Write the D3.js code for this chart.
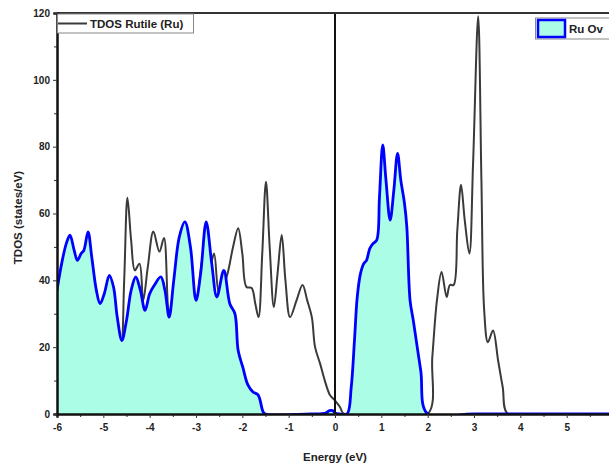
<!DOCTYPE html>
<html>
<head>
<meta charset="utf-8">
<script src="https://cdn.jsdelivr.net/npm/d3@7"></script>
<style>
  html, body { margin: 0; padding: 0; background: #fff; }
  svg { display: block; font-family: "Liberation Sans", Arial, sans-serif; }
</style>
</head>
<body>
<svg id="chart" width="609" height="468"></svg>
<script>
// Total density of states, rutile (Ru)
const tdosEnergy = [-6.0,-5.9,-5.8,-5.72,-5.6,-5.48,-5.33,-5.2,-5.07,-4.87,-4.72,-4.62,-4.55,-4.48,-4.4,-4.32,-4.22,-4.14,-4.04,-3.92,-3.79,-3.69,-3.58,-3.45,-3.3,-3.24,-3.1,-3.0,-2.88,-2.78,-2.7,-2.61,-2.5,-2.34,-2.2,-2.09,-2.0,-1.91,-1.8,-1.72,-1.65,-1.57,-1.49,-1.41,-1.32,-1.24,-1.15,-1.07,-0.97,-0.83,-0.7,-0.6,-0.5,-0.43,-0.32,-0.22,-0.11,0.0,0.11,0.17,0.25,1.0,2.0,2.1,2.2,2.3,2.41,2.48,2.56,2.64,2.72,2.8,2.9,2.98,3.09,3.16,3.22,3.3,3.41,3.52,3.62,3.73,4.5,6.0];
const tdosValue  = [33,40,47,50,44,45,50,40,30,38,25,20,40,64.7,52,43,45,34,44,54.6,48.6,52.7,31,38,50,52,44,32,45,52,44,48,36,41,50,55.6,48,38,37.7,33,29,48,69.5,50,32,42,53.6,40,29,34,38.6,34,29,20,15,10,5.7,4,2,0.3,0,0,0,17,34,42.5,35,38.6,38.6,55,68.6,58,48,75,119,70,31,21.5,25,16,8,0,0,0];

// Density of states, Ru with oxygen vacancy
const ovEnergy = [-6.0,-5.9,-5.8,-5.72,-5.63,-5.56,-5.48,-5.42,-5.33,-5.25,-5.15,-5.07,-4.98,-4.87,-4.78,-4.7,-4.6,-4.5,-4.4,-4.3,-4.2,-4.1,-4.0,-3.9,-3.76,-3.67,-3.58,-3.48,-3.36,-3.24,-3.12,-3.0,-2.9,-2.78,-2.66,-2.55,-2.4,-2.27,-2.16,-2.09,-1.99,-1.88,-1.77,-1.66,-1.55,-1.5,-0.5,-0.2,-0.12,-0.05,0.0,0.1,0.26,0.35,0.42,0.48,0.55,0.62,0.68,0.75,0.82,0.9,0.96,1.03,1.1,1.19,1.27,1.35,1.42,1.5,1.55,1.62,1.69,1.85,2.0,3.0,6.0];
const ovValue  = [37,45,51,53.5,49,46,48,49,54.5,47,37,33,36,41.5,38,29,22,28,37,41,37,31,36,38.5,41,37,29,40,53,57.5,50,34,42,57.5,45,35,43,33,30,19,14,8.7,6.6,5.7,0.6,0,0,0.3,1,1,0.3,0,0,8,22,35,42,45,46,49.5,51,52,65,80.5,70,58,67,78,70,63,56,34,28,13,0,0,0];

const xTicks = [-6,-5,-4,-3,-2,-1,0,1,2,3,4,5];
const yTicks = [0,20,40,60,80,100,120];
const seriesNames = ["TDOS Rutile (Ru)", "Ru Ov"];

const svg = d3.select("#chart");
const x = d3.scaleLinear().domain([-6, 6]).range([57, 613]);
const y = d3.scaleLinear().domain([0, 120]).range([414, 13]);

const tdos = tdosEnergy.map((e, i) => ({e, v: tdosValue[i]}));
const ov = ovEnergy.map((e, i) => ({e, v: ovValue[i]}));

svg.append("clipPath").attr("id", "plot-clip")
  .append("rect").attr("x", x(-6)).attr("y", y(120)).attr("width", x(6) - x(-6)).attr("height", y(0) - y(120));

const plot = svg.append("g").attr("clip-path", "url(#plot-clip)");

const curve = d3.curveCatmullRom.alpha(0.5);
const line = d3.line().x(d => x(d.e)).y(d => y(d.v)).curve(curve);
const area = d3.area().x(d => x(d.e)).y0(y(0)).y1(d => y(d.v)).curve(curve);

// TDOS line underneath, vacancy DOS filled on top
plot.append("path").datum(tdos).attr("d", line)
  .attr("fill", "none").attr("stroke", "#3a3a3a").attr("stroke-width", 2).attr("stroke-linejoin", "round");
plot.append("path").datum(ov).attr("d", area).attr("fill", "#abfde6");
plot.append("path").datum(ov).attr("d", line)
  .attr("fill", "none").attr("stroke", "#0000ff").attr("stroke-width", 2.8).attr("stroke-linejoin", "round");

// Fermi level
svg.append("line").attr("x1", x(0)).attr("x2", x(0)).attr("y1", y(120)).attr("y2", y(0))
  .attr("stroke", "#111").attr("stroke-width", 2);

// Frame
svg.append("line").attr("x1", x(-6)).attr("x2", x(6)).attr("y1", y(120)).attr("y2", y(120))
  .attr("stroke", "#333").attr("stroke-width", 2);

// Axes
const xAxis = d3.axisBottom(x).tickValues(xTicks).tickFormat(d => String(d)).tickSize(4).tickPadding(6);
const xMinor = d3.axisBottom(x).tickValues(d3.range(-5.5, 6, 1)).tickFormat("").tickSize(3);
const yAxis = d3.axisLeft(y).tickValues(yTicks).tickSize(4).tickPadding(3);
const yMinor = d3.axisLeft(y).tickValues(d3.range(10, 120, 20)).tickFormat("").tickSize(3);

function styleAxis(g) {
  g.select(".domain").attr("stroke", "#111").attr("stroke-width", 2);
  g.selectAll(".tick line").attr("stroke", "#333").attr("stroke-width", 1);
  g.selectAll(".tick text").attr("fill", "#222").attr("font-size", 10).attr("font-weight", "bold")
    .attr("font-family", "Liberation Sans, Arial, sans-serif");
}

svg.append("g").attr("transform", `translate(0,${y(0)})`).call(xMinor).call(styleAxis);
svg.append("g").attr("transform", `translate(0,${y(0)})`).call(xAxis).call(styleAxis);
svg.append("g").attr("transform", `translate(${x(-6)},0)`).call(yMinor).call(styleAxis);
svg.append("g").attr("transform", `translate(${x(-6)},0)`).call(yAxis).call(styleAxis);

// Axis titles
svg.append("text").attr("x", x(0)).attr("y", 461).attr("text-anchor", "middle")
  .attr("font-size", 11.5).attr("font-weight", "bold").attr("fill", "#222").text("Energy (eV)");
svg.append("text").attr("transform", `translate(22,${(y(0) + y(120)) / 2 + 4}) rotate(-90)`)
  .attr("text-anchor", "middle").attr("font-size", 11.5).attr("font-weight", "bold").attr("fill", "#222")
  .text("TDOS (states/eV)");

// Legend: TDOS line
const lg1 = svg.append("g");
lg1.append("rect").attr("x", 57.5).attr("y", 14).attr("width", 136).attr("height", 19)
  .attr("fill", "#fff").attr("stroke", "#888").attr("stroke-width", 1);
lg1.append("line").attr("x1", 58).attr("x2", 87).attr("y1", 23.5).attr("y2", 23.5)
  .attr("stroke", "#3a3a3a").attr("stroke-width", 2);
lg1.append("text").attr("x", 90).attr("y", 28).attr("font-size", 11.5).attr("font-weight", "bold")
  .attr("fill", "#222").text(seriesNames[0]);

// Legend: vacancy fill
const lg2 = svg.append("g");
lg2.append("rect").attr("x", 535.5).attr("y", 18).attr("width", 76).attr("height", 21)
  .attr("fill", "#fff").attr("stroke", "#888").attr("stroke-width", 1);
lg2.append("rect").attr("x", 538).attr("y", 20).attr("width", 27).attr("height", 17)
  .attr("fill", "#abfde6").attr("stroke", "#0000ff").attr("stroke-width", 2.5);
lg2.append("text").attr("x", 569).attr("y", 33).attr("font-size", 11.5).attr("font-weight", "bold")
  .attr("fill", "#222").text(seriesNames[1]);
</script>
</body>
</html>
